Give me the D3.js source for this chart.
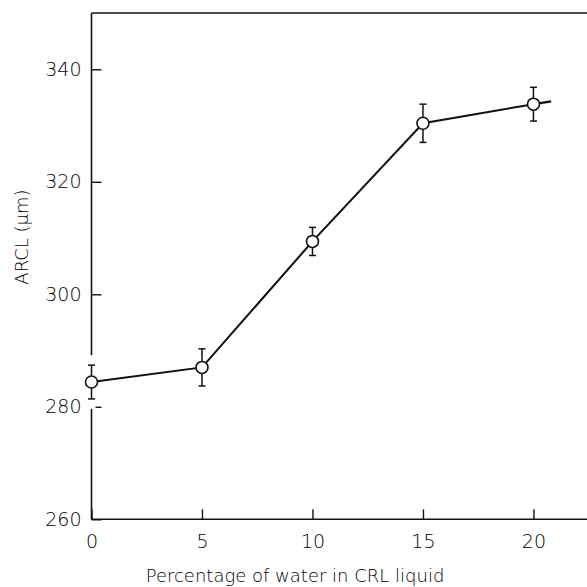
<!DOCTYPE html>
<html>
<head>
<meta charset="utf-8">
<script src="https://cdn.jsdelivr.net/npm/d3@7"></script>
<style>
  body { margin: 0; background: #fff; }
  text { font-family: "DejaVu Sans", sans-serif; fill: #000; font-weight: 300; }
</style>
</head>
<body>
<svg id="chart" width="587" height="587"></svg>
<script>
// water percentage vs ARCL
var waterPct = [0, 5, 10, 15, 20];
var arcl     = [284.4, 287.0, 309.4, 330.4, 333.8];
var arclErr  = [3.0, 3.3, 2.5, 3.4, 3.0];
// short continuation of the drawn line past the last point
var tailX = [20, 20.8];
var tailY = [333.8, 334.3];

var xTicks = [0, 5, 10, 15, 20];
var yTicks = [260, 280, 300, 320, 340];

var xTitle = "Percentage of water in CRL liquid";
var yTitle = "ARCL (\u03bcm)";

var svg = d3.select("#chart");

var x = d3.scaleLinear().domain([0, 22.5]).range([91.5, 588.7]);
var y = d3.scaleLinear().domain([260, 350]).range([519.3, 13.05]);

// frame (right side runs off the picture)
var frame = svg.append("g")
  .attr("stroke", "#111")
  .attr("stroke-width", 1.6)
  .attr("fill", "none");
frame.append("line").attr("x1", x(0)).attr("x2", x(0)).attr("y1", y(350)).attr("y2", y(260));
frame.append("line").attr("x1", x(0)).attr("x2", 600).attr("y1", y(350)).attr("y2", y(350));
frame.append("line").attr("x1", x(0)).attr("x2", 600).attr("y1", y(260)).attr("y2", y(260));

var xAxis = svg.append("g")
  .attr("transform", "translate(0," + y(260) + ")")
  .call(d3.axisBottom(x).tickValues(xTicks).tickSize(-10).tickPadding(15).tickFormat(d3.format("d")));
xAxis.select(".domain").remove();
xAxis.selectAll("line").attr("stroke", "#111").attr("stroke-width", 1.4);
xAxis.selectAll("text").style("font-size", "19px").style("font-family", "DejaVu Sans").style("font-weight", "300").attr("fill", "#000");

var yAxis = svg.append("g")
  .attr("transform", "translate(" + x(0) + ",0)")
  .call(d3.axisLeft(y).tickValues(yTicks).tickSize(-10).tickPadding(10).tickFormat(d3.format("d")));
yAxis.select(".domain").remove();
yAxis.selectAll("line").attr("stroke", "#111").attr("stroke-width", 1.4);
yAxis.selectAll("text").style("font-size", "19px").style("font-family", "DejaVu Sans").style("font-weight", "300").attr("fill", "#000");

var pts = waterPct.map(function(d, i) { return { x: d, y: arcl[i], e: arclErr[i] }; });

// white knockout round each point's error bar (breaks the axis at x = 0)
svg.append("g").selectAll("line")
  .data(pts).enter().append("line")
    .attr("x1", function(d) { return x(d.x); })
    .attr("x2", function(d) { return x(d.x); })
    .attr("y1", function(d) { return y(d.y + d.e) - 10; })
    .attr("y2", function(d) { return y(d.y - d.e) + 10; })
    .attr("stroke", "#fff")
    .attr("stroke-width", 8);

var line = d3.line()
  .x(function(d) { return x(d.x); })
  .y(function(d) { return y(d.y); });

svg.append("path")
  .datum(pts)
  .attr("d", line)
  .attr("fill", "none")
  .attr("stroke", "#111")
  .attr("stroke-width", 2);

svg.append("path")
  .datum(tailX.map(function(d, i) { return { x: d, y: tailY[i] }; }))
  .attr("d", line)
  .attr("fill", "none")
  .attr("stroke", "#111")
  .attr("stroke-width", 2.4);

var err = svg.append("g").attr("stroke", "#111").attr("stroke-width", 1.5);
err.selectAll(".bar")
  .data(pts).enter().append("line")
    .attr("class", "bar")
    .attr("x1", function(d) { return x(d.x); })
    .attr("x2", function(d) { return x(d.x); })
    .attr("y1", function(d) { return y(d.y + d.e); })
    .attr("y2", function(d) { return y(d.y - d.e); });
err.selectAll(".capTop")
  .data(pts).enter().append("line")
    .attr("class", "capTop")
    .attr("x1", function(d) { return x(d.x) - 3.5; })
    .attr("x2", function(d) { return x(d.x) + 3.5; })
    .attr("y1", function(d) { return y(d.y + d.e); })
    .attr("y2", function(d) { return y(d.y + d.e); });
err.selectAll(".capBot")
  .data(pts).enter().append("line")
    .attr("class", "capBot")
    .attr("x1", function(d) { return x(d.x) - 3.5; })
    .attr("x2", function(d) { return x(d.x) + 3.5; })
    .attr("y1", function(d) { return y(d.y - d.e); })
    .attr("y2", function(d) { return y(d.y - d.e); });

svg.append("g").selectAll("circle")
  .data(pts).enter().append("circle")
    .attr("cx", function(d) { return x(d.x); })
    .attr("cy", function(d) { return y(d.y); })
    .attr("r", 6)
    .attr("fill", "#fff")
    .attr("stroke", "#111")
    .attr("stroke-width", 1.6);

svg.append("text")
  .attr("x", 295)
  .attr("y", 582)
  .attr("text-anchor", "middle")
  .style("font-size", "18px")
  .text(xTitle);

svg.append("text")
  .attr("transform", "translate(28,237) rotate(-90)")
  .attr("text-anchor", "middle")
  .style("font-size", "18px")
  .text(yTitle);
</script>
</body>
</html>
